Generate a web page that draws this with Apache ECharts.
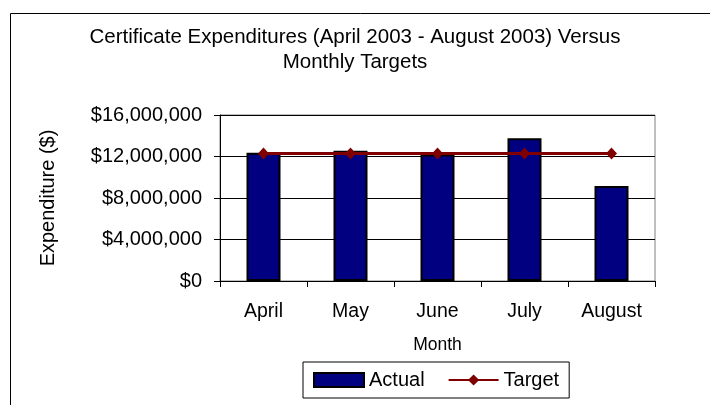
<!DOCTYPE html>
<html>
<head>
<meta charset="utf-8">
<script src="https://cdn.jsdelivr.net/npm/echarts@6/dist/echarts.min.js"></script>
<style>
	html,body{ margin:0; padding:0; background:#fff; }
	#chart{ width:710px; height:405px; }
</style>
</head>
<body>
<div id="chart"></div>
<script>
// data
const months = ['April', 'May', 'June', 'July', 'August']
const actual = [12350000, 12550000, 12200000, 13750000, 9150000]
const target = [12300000, 12300000, 12300000, 12300000, 12300000]
const yTicks = { min: 0, max: 16000000, step: 4000000 }

const font = "'Liberation Sans', Arial, sans-serif"
let chartObj = echarts.init(document.getElementById('chart'))

let option = {
	animation: false,
	textStyle: { fontFamily: font, color: '#000' },
	title: {
		text: 'Certificate Expenditures (April 2003 - August 2003) Versus\nMonthly Targets',
		left: 'center',
		top: 25,
		padding: [0, 0, 0, 12],
		textStyle: {
			fontFamily: font,
			fontSize: 20.5,
			fontWeight: 'normal',
			lineHeight: 25,
			color: '#000'
		}
	},
	// outer chart frame, cut off on the right and bottom like the reference
	graphic: [{
		type: 'rect',
		shape: { x: 10.5, y: 13.5, width: 720, height: 420 },
		style: { fill: null, stroke: '#000', lineWidth: 1 },
		z: -1
	}],
	grid: {
		left: 220,
		right: 55,
		top: 115,
		bottom: 124,
		show: true,
		borderColor: '#808080',
		borderWidth: 1
	},
	legend: {
		left: 303,
		top: 362,
		padding: [8, 10, 8, 10],
		itemGap: 23,
		itemWidth: 50,
		itemHeight: 14,
		borderColor: '#000',
		borderWidth: 1,
		textStyle: { fontFamily: font, fontSize: 20, color: '#000' },
		data: [{ name: 'Actual', icon: 'rect' }, 'Target']
	},
	xAxis: {
		type: 'category',
		data: months,
		name: 'Month',
		nameLocation: 'middle',
		nameGap: 55,
		nameTextStyle: { fontFamily: font, fontSize: 17.5, color: '#000' },
		axisLine: { lineStyle: { color: '#000', width: 1 } },
		axisTick: { show: true, length: 6, lineStyle: { color: '#000' } },
		axisLabel: { fontFamily: font, fontSize: 19.5, color: '#000', margin: 21 }
	},
	yAxis: {
		type: 'value',
		min: yTicks.min,
		max: yTicks.max,
		interval: yTicks.step,
		name: 'Expenditure ($)',
		nameLocation: 'middle',
		nameGap: 162,
		nameTextStyle: { fontFamily: font, fontSize: 20, color: '#000' },
		axisLine: { show: true, lineStyle: { color: '#000', width: 1 } },
		axisTick: { show: true, length: 6, lineStyle: { color: '#000' } },
		axisLabel: {
			fontFamily: font,
			fontSize: 20,
			color: '#000',
			margin: 18,
			formatter: function (v) {
				return '$' + v.toLocaleString('en-US')
			}
		},
		splitLine: { show: true, lineStyle: { color: '#000', width: 1 } }
	},
	series: [
		{
			name: 'Actual',
			type: 'bar',
			data: actual,
			barWidth: 34,
			itemStyle: {
				color: '#000080',
				borderColor: '#000',
				borderWidth: 2
			}
		},
		{
			name: 'Target',
			type: 'line',
			data: target,
			symbol: 'diamond',
			symbolSize: [11, 12],
			lineStyle: { color: '#800000', width: 3 },
			itemStyle: { color: '#800000' },
			z: 3
		}
	]
}
option && chartObj.setOption(option)
</script>
</body>
</html>
